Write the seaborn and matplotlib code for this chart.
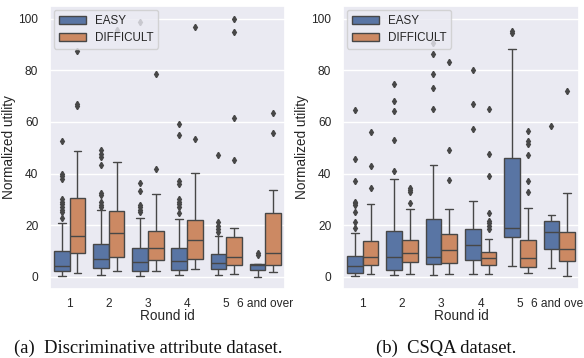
import numpy as np
import pandas as pd
import matplotlib
matplotlib.use("Agg")
import matplotlib.pyplot as plt
import seaborn as sns

rounds = ["1", "2", "3", "4", "5", "6 and over"]
levels = ["EASY", "DIFFICULT"]

# five-number summaries per round: (lower whisker, q1, median, q3, upper whisker)
a_easy_box = [(0.1, 2.1, 4.2, 9.8, 21.0), (0.5, 3.3, 6.9, 12.7, 25.9), (0.3, 2.3, 5.7, 11.1, 22.6),
              (0.5, 2.4, 6.0, 11.1, 22.3), (0.5, 3.1, 5.3, 8.7, 15.6), (0.0, 2.5, 4.6, 4.8, 4.8)]
a_easy_out = [[22.6, 25.0, 26.0, 27.0, 28.0, 29.0, 30.0, 38.0, 39.0, 40.0, 52.6],
              [26.9, 27.8, 28.8, 31.6, 32.5, 43.2, 46.4, 47.7, 49.2],
              [25.0, 25.9, 26.9, 27.8, 33.3, 36.5, 98.6],
              [24.6, 27.1, 28.2, 29.1, 30.0, 36.1, 37.2, 54.8, 59.4],
              [17.4, 18.5, 19.7, 21.1, 47.1],
              [8.4, 9.0]]
a_diff_box = [(1.3, 9.1, 15.6, 30.7, 48.9), (2.1, 7.6, 16.8, 25.6, 44.5), (2.1, 6.6, 11.1, 17.7, 31.9),
              (3.0, 6.8, 14.3, 22.0, 40.4), (1.2, 4.4, 7.8, 15.3, 18.8), (1.7, 4.6, 9.1, 24.6, 33.6)]
a_diff_out = [[66.3, 67.0, 87.4], [95.5], [41.9, 78.7], [53.4, 97.0], [45.1, 61.5, 95.0, 100.0],
              [55.6, 63.5]]

b_easy_box = [(0.3, 1.4, 4.2, 8.1, 16.8), (0.5, 2.7, 7.6, 17.7, 37.8), (0.5, 4.9, 7.8, 22.4, 43.2),
              (1.2, 6.3, 12.3, 18.4, 29.5), (4.2, 15.2, 18.8, 46.2, 88.3), (3.3, 10.8, 17.5, 21.6, 23.9)]
b_easy_out = [[18.8, 21.1, 25.2, 27.8, 28.4, 29.1, 37.2, 45.5, 64.6],
              [40.9, 53.2, 64.4, 68.3, 74.8],
              [65.2, 73.2, 78.7, 86.5, 90.8],
              [57.4, 67.0, 80.0],
              [94.6, 95.4],
              [58.6]]
b_diff_box = [(1.2, 4.4, 7.6, 14.0, 28.2), (1.2, 5.7, 9.1, 14.4, 26.1), (0.9, 5.3, 10.4, 16.5, 26.1),
              (1.2, 4.4, 7.2, 9.5, 14.5), (1.4, 3.6, 7.2, 14.3, 26.8), (0.1, 6.2, 10.8, 17.2, 32.5)]
b_diff_out = [[34.5, 43.0, 56.0], [28.4, 32.9, 33.6, 34.2], [37.4, 49.0, 83.2],
              [18.4, 19.7, 20.7, 21.7, 24.6, 39.0, 47.7, 65.2],
              [32.7, 37.2, 47.0, 51.6, 52.5, 56.6], [71.9]]

captions = ["(a)  Discriminative attribute dataset.", "(b)  CSQA dataset."]


def sample_from_summary(box, outliers):
    """Build observations whose quartiles / whiskers reproduce the summary."""
    lo, q1, med, q3, hi = box
    hi_out = sorted(o for o in outliers if o > q3)
    lo_out = sorted(o for o in outliers if o < q1)
    k = max(len(hi_out), len(lo_out)) + 1
    below = lo_out + [lo] + [q1] * (k - len(lo_out) - 1)
    mid1 = [q1] * k
    mid2 = [med] * k
    above = [q3] + [q3] * (k - len(hi_out) - 1) + [hi] + hi_out
    return below + mid1 + mid2 + above


def build_frame(easy_box, easy_out, diff_box, diff_out):
    rows = []
    for r, eb, eo, db, do in zip(rounds, easy_box, easy_out, diff_box, diff_out):
        for lvl, b, o in (("EASY", eb, eo), ("DIFFICULT", db, do)):
            for v in sample_from_summary(b, o):
                rows.append({"Round id": r, "Level": lvl, "Normalized utility": v})
    return pd.DataFrame(rows)


frames = [build_frame(a_easy_box, a_easy_out, a_diff_box, a_diff_out),
          build_frame(b_easy_box, b_easy_out, b_diff_box, b_diff_out)]

sns.set_theme(style="darkgrid")
plt.rcParams["font.family"] = ["Liberation Sans", "DejaVu Sans"]

W, H = 584, 358
fig = plt.figure(figsize=(W / 100, H / 100), dpi=100)
axes_px = [(50, 285), (343, 579)]
top_px, bot_px = 6, 289
line_gray = "#474747"

for i, df in enumerate(frames):
    x0, x1 = axes_px[i]
    ax = fig.add_axes([x0 / W, 1 - bot_px / H, (x1 - x0) / W, (bot_px - top_px) / H])
    sns.boxplot(data=df, x="Round id", y="Normalized utility", hue="Level",
                order=rounds, hue_order=levels, palette="deep", ax=ax,
                linewidth=1.0, linecolor=line_gray,
                flierprops=dict(marker="d", markersize=3.2, markerfacecolor=line_gray,
                                markeredgecolor=line_gray))
    ax.set_ylim(-4.8, 105)
    ax.set_yticks([0, 20, 40, 60, 80, 100])
    ax.tick_params(axis="x", labelsize=8.6, pad=0.5)
    ax.tick_params(axis="y", labelsize=8.6, pad=2.5)
    ax.set_xlabel("Round id", fontsize=9.8, labelpad=-1)
    ax.set_ylabel("Normalized utility", fontsize=9.8, labelpad=1.5)
    handles, labels = ax.get_legend_handles_labels()
    ax.legend(handles, labels, loc="upper left", fontsize=8.4, title=None,
              borderaxespad=0.35, handlelength=2.3, labelspacing=0.45)

fig.text(148 / W, 1 - 348 / H, captions[0], ha="center", va="center",
         fontsize=13.4, family=["Liberation Serif", "DejaVu Serif"], color="#111111")
fig.text(446 / W, 1 - 348 / H, captions[1], ha="center", va="center",
         fontsize=13.4, family=["Liberation Serif", "DejaVu Serif"], color="#111111")

fig.savefig("out.png", dpi=100)
